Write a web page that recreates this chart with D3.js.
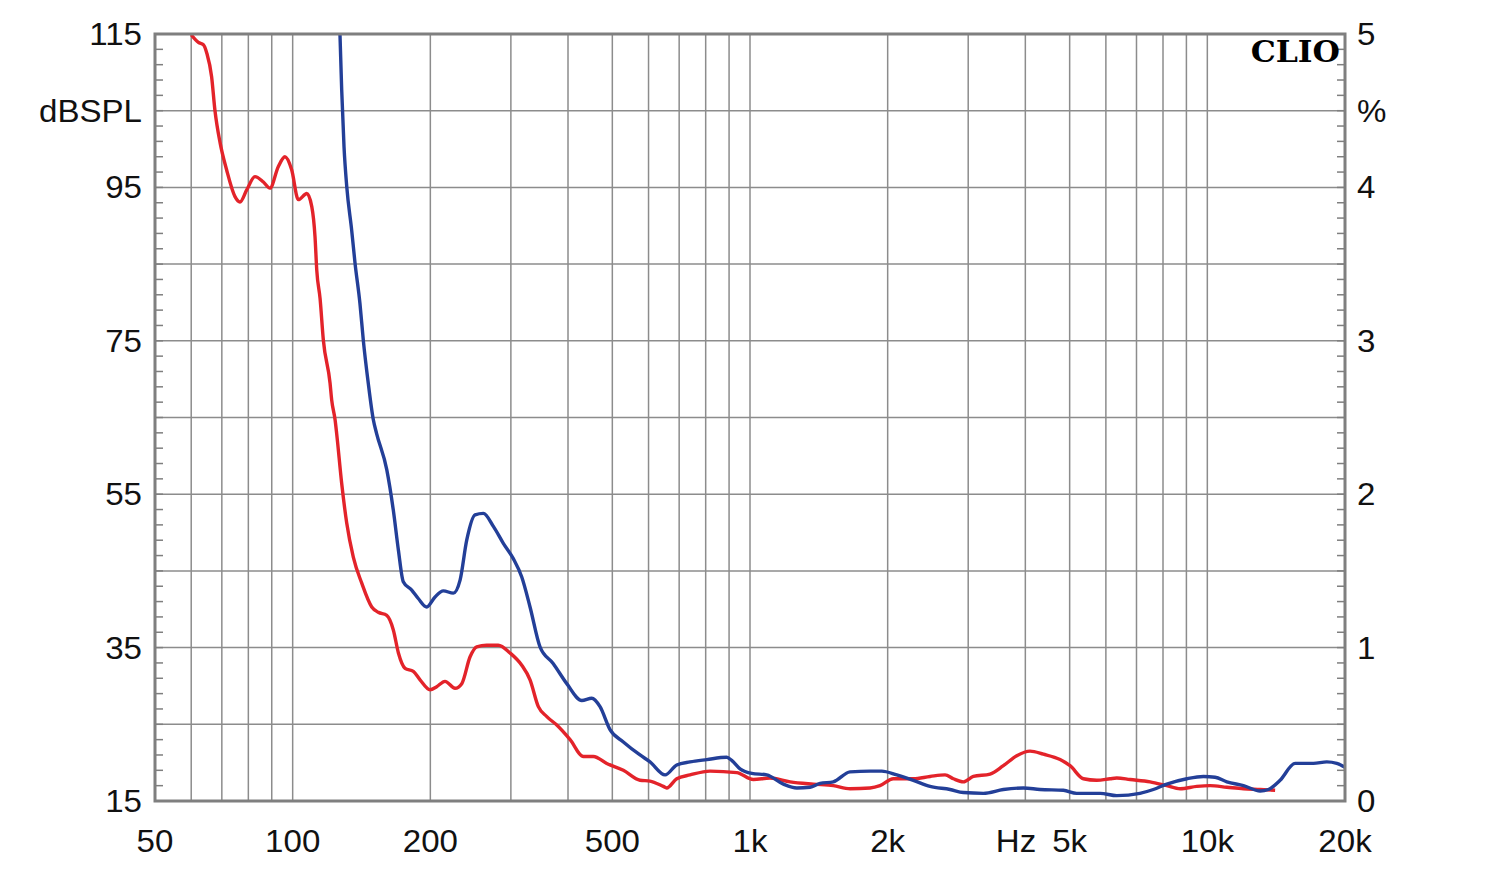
<!DOCTYPE html>
<html>
<head>
<meta charset="utf-8">
<script src="https://cdn.jsdelivr.net/npm/d3@7"></script>
<style>
  html, body { margin: 0; padding: 0; background: #ffffff; }
  svg { display: block; }
</style>
</head>
<body>
<svg id="chart" width="1500" height="870"></svg>
<script>
// ---------- data ----------
const xTickValues = [50, 100, 200, 500, 1000, 2000, 5000, 10000, 20000];
const xTickLabels = ["50", "100", "200", "500", "1k", "2k", "5k", "10k", "20k"];
const xGridValues = [60, 70, 80, 90, 100, 200, 300, 400, 500, 600, 700, 800, 900,
                     1000, 2000, 3000, 4000, 5000, 6000, 7000, 8000, 9000, 10000];
const yLeftTicks = [15, 35, 55, 75, 95, 115];
const yRightTicks = [0, 1, 2, 3, 4, 5];
const yGridValues = [25, 35, 45, 55, 65, 75, 85, 95, 105];

// red curve: frequency (Hz) and dBSPL
const redFreq = [60.0, 62.2, 63.8, 64.9, 66.5, 67.6, 69.4, 71.7, 74.8, 76.7, 79.4, 82.7, 86.3, 89.2,
  93.0, 96.2, 99.5, 102.9, 107.4, 110.1, 111.9, 112.9, 114.8, 116.7, 120.7, 121.7, 123.8, 124.8,
  128.0, 131.3, 135.7, 141.6, 148.9, 153.9, 160.6, 166.0, 170.3, 176.1, 183.6, 189.9, 199.7,
  206.5, 215.3, 226.5, 234.3, 244.3, 252.6, 265.6, 281.6, 298.7, 316.9, 330.4, 344.5, 359.5,
  378.0, 404.2, 432.3, 454.5, 486.1, 528.5, 574.8, 604.4, 646.4, 657.4, 691.5, 739.4, 817.7,
  935.4, 1017, 1106, 1224, 1376, 1521, 1655, 1830, 1924, 2058, 2276, 2476, 2670, 2784, 2928,
  3079, 3349, 3581, 3831, 4096, 4380, 4764, 5010, 5358, 5730, 6128, 6338, 6779, 7496, 8153,
  8719, 9484, 10139, 11030, 11995, 13046, 14068];
const redValues = [114.9, 113.9, 113.6, 112.5, 109.4, 105.1, 100.8, 97.3, 93.8, 93.1, 94.7, 96.4, 95.7, 94.9,
  97.7, 99.0, 97.3, 93.4, 94.2, 92.5, 88.6, 84.2, 80.5, 75.1, 69.5, 67.3, 64.7, 62.9,
  56.4, 51.2, 46.8, 43.4, 40.3, 39.6, 39.2, 37.3, 34.3, 32.3, 31.9, 30.8, 29.5,
  29.9, 30.6, 29.7, 30.3, 33.8, 35.1, 35.3, 35.3, 34.3, 32.7, 30.8, 27.3, 26.0,
  24.9, 23.0, 20.8, 20.8, 19.9, 19.0, 17.7, 17.6, 16.9, 16.7, 17.9, 18.4, 18.9,
  18.7, 17.8, 18.0, 17.5, 17.2, 17.0, 16.6, 16.7, 17.0, 17.9, 17.9, 18.2, 18.4, 17.9, 17.5,
  18.2, 18.5, 19.6, 20.9, 21.5, 21.1, 20.4, 19.6, 17.9, 17.7, 17.9, 18.0, 17.8, 17.5, 17.0,
  16.6, 16.9, 17.0, 16.8, 16.6, 16.5, 16.4];

// blue curve: frequency (Hz) and dBSPL
const blueFreq = [126.9, 128.0, 129.5, 131.3, 134.6, 136.9, 140.3, 142.7, 146.3, 150.1, 152.6,
  160.6, 166.0, 170.3, 174.5, 182.1, 188.2, 196.4, 204.8, 213.5, 224.5, 232.3, 240.2, 250.5,
  261.2, 274.7, 288.8, 303.7, 316.9, 330.4, 347.4, 371.5, 397.5, 428.8, 450.8, 470.0, 494.2,
  528.5, 574.8, 604.4, 652.1, 691.5, 739.4, 804.2, 889.5, 912.1, 951.1, 1009, 1088, 1183,
  1266, 1353, 1423, 1521, 1655, 1830, 1941, 2094, 2276, 2476, 2738, 2928, 3238, 3581, 3960,
  4307, 4844, 5180, 5829, 6338, 7121, 7620, 8153, 9021, 9806, 10399, 11030, 11995, 13046,
  13600, 14424, 15556, 17060, 18251, 19189, 20000];
const blueValues = [114.9, 107.7, 100.3, 95.1, 89.4, 85.1, 79.9, 75.1, 69.5, 64.7, 62.9,
  58.2, 52.9, 47.7, 43.6, 42.5, 41.4, 40.3, 41.6, 42.4, 42.1, 43.8, 49.0, 52.3,
  52.5, 50.8, 48.6, 46.6, 44.2, 40.3, 35.1, 32.9, 30.3, 28.1, 28.4, 27.3, 24.3,
  22.7, 21.0, 20.1, 18.4, 19.7, 20.1, 20.4, 20.7, 20.3, 19.2, 18.6, 18.4, 17.2,
  16.7, 16.8, 17.3, 17.5, 18.8, 18.9, 18.9, 18.4, 17.7, 16.9, 16.5, 16.1, 16.0, 16.5, 16.7,
  16.5, 16.4, 16.0, 16.0, 15.7, 16.0, 16.5, 17.2, 17.9, 18.2, 18.1, 17.5, 17.0, 16.3,
  16.5, 17.7, 19.9, 19.9, 20.1, 19.9, 19.4];

// ---------- layout ----------
const svg = d3.select("#chart");
const plotL = 155, plotR = 1345, plotT = 34, plotB = 801;

const x = d3.scaleLog().domain([50, 20000]).range([plotL, plotR]);
const y = d3.scaleLinear().domain([15, 115]).range([plotB, plotT]);
const yR = d3.scaleLinear().domain([0, 5]).range([plotB, plotT]);

const gridColor = "#8c8c8c";
const frameColor = "#7f7f7f";
const font = "Liberation Sans, Arial, sans-serif";
const fs = 30.5, stretch = 1.085;

// clip
svg.append("defs").append("clipPath").attr("id", "plotclip")
  .append("rect").attr("x", plotL).attr("y", plotT)
  .attr("width", plotR - plotL).attr("height", plotB - plotT);

// vertical grid
svg.append("g").selectAll("line").data(xGridValues).join("line")
  .attr("x1", d => x(d)).attr("x2", d => x(d))
  .attr("y1", plotT).attr("y2", plotB)
  .attr("stroke", gridColor).attr("stroke-width", 1.5);

// horizontal grid
svg.append("g").selectAll("line").data(yGridValues).join("line")
  .attr("x1", plotL).attr("x2", plotR)
  .attr("y1", d => y(d)).attr("y2", d => y(d))
  .attr("stroke", gridColor).attr("stroke-width", 1.5);

// minor ticks (every 2 dB) inside left and right edges
const minor = d3.range(17, 115, 2);
const tickG = svg.append("g");
tickG.selectAll("line.l").data(minor).join("line").attr("class", "l")
  .attr("x1", plotL).attr("x2", plotL + 8)
  .attr("y1", d => y(d)).attr("y2", d => y(d))
  .attr("stroke", frameColor).attr("stroke-width", 1.5);
tickG.selectAll("line.r").data(minor).join("line").attr("class", "r")
  .attr("x1", plotR - 8).attr("x2", plotR)
  .attr("y1", d => y(d)).attr("y2", d => y(d))
  .attr("stroke", frameColor).attr("stroke-width", 1.5);

// curves
const line = d3.line().x(d => x(d[0])).y(d => y(d[1])).curve(d3.curveMonotoneX);
const redData = redFreq.map((f, i) => [f, redValues[i]]);
const blueData = blueFreq.map((f, i) => [f, blueValues[i]]);

const curves = svg.append("g").attr("clip-path", "url(#plotclip)");
curves.append("path").datum(redData).attr("d", line)
  .attr("fill", "none").attr("stroke", "#e3232a").attr("stroke-width", 3.4)
  .attr("stroke-linejoin", "round");
curves.append("path").datum(blueData).attr("d", line)
  .attr("fill", "none").attr("stroke", "#233f98").attr("stroke-width", 3.4)
  .attr("stroke-linejoin", "round");

// frame
svg.append("rect").attr("x", plotL).attr("y", plotT)
  .attr("width", plotR - plotL).attr("height", plotB - plotT)
  .attr("fill", "none").attr("stroke", frameColor).attr("stroke-width", 3);

// text helper: horizontally stretched label anchored at (px, py)
function label(g, px, py, txt, anchor, opts = {}) {
  return g.append("text")
    .attr("transform", `translate(${px},${py}) scale(${opts.sx || stretch},1)`)
    .attr("dy", "0.36em")
    .attr("text-anchor", anchor)
    .attr("font-family", opts.family || font)
    .attr("font-weight", opts.weight || "normal")
    .attr("font-size", opts.size || fs)
    .attr("fill", opts.fill || "#111")
    .text(txt);
}

const textG = svg.append("g");
// left axis
yLeftTicks.forEach(v => label(textG, 142, y(v), v, "end"));
label(textG, 142, y(105), "dBSPL", "end");
// right axis
yRightTicks.forEach(v => label(textG, 1357, yR(v), v, "start"));
label(textG, 1357, yR(4.5), "%", "start");
// bottom axis
xTickValues.forEach((v, i) => label(textG, x(v), 841, xTickLabels[i], "middle"));
label(textG, 1016, 841, "Hz", "middle");
// CLIO logo
label(textG, 1340, 51, "CLIO", "end",
  { family: "DejaVu Serif, Liberation Serif, serif", weight: "bold", size: 30, fill: "#000", sx: 1.05 });
</script>
</body>
</html>
